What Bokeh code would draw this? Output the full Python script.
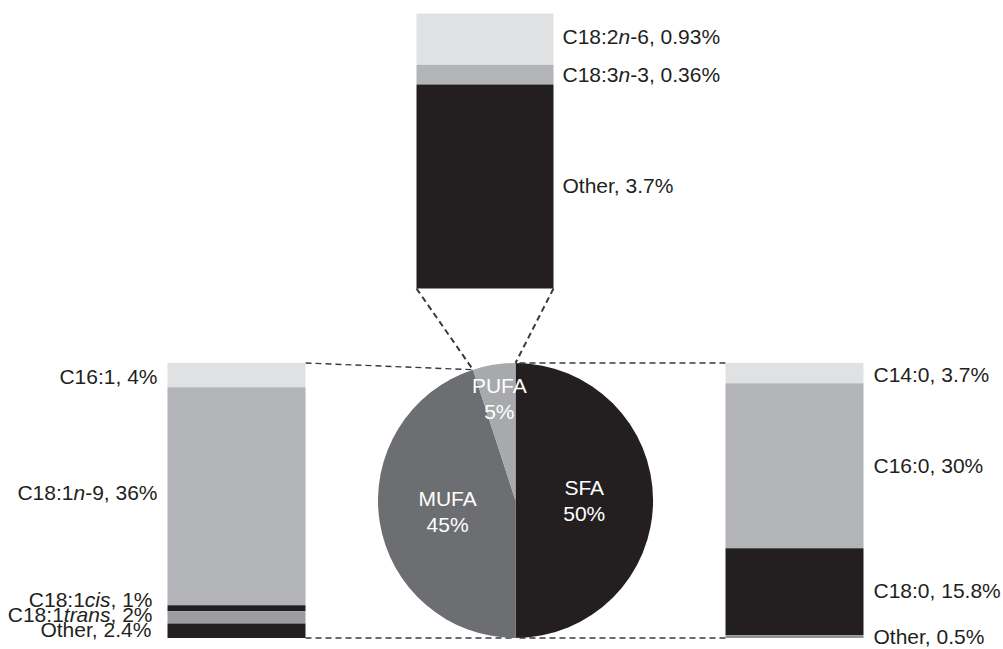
import re
import math
from bokeh.plotting import figure
from bokeh.models import Range1d, ColumnDataSource
from bokeh.core.properties import value
from bokeh.embed import file_html
from bokeh.resources import INLINE

# ---------------- data ----------------
pie_groups = ["SFA", "MUFA", "PUFA"]
pie_values = [50, 45, 5]

sfa_names = ["C14:0", "C16:0", "C18:0", "Other"]
sfa_values = [3.7, 30, 15.8, 0.5]

mufa_names = ["C16:1", "C18:1{n}-9", "C18:1{cis}", "C18:1{trans}", "Other"]
mufa_values = [4, 36, 1, 2, 2.4]

pufa_names = ["C18:2{n}-6", "C18:3{n}-3", "Other"]
pufa_values = [0.93, 0.36, 3.7]

# ---------------- style ----------------
FONT = "Liberation Sans"
FS = 21
BLACK = "#231f20"
LIGHT = "#e0e1e3"
MID = "#b3b4b7"
pie_colors = [BLACK, "#6d6e71", "#a7a9ac"]
sfa_colors = [LIGHT, MID, BLACK, "#929396"]
mufa_colors = [LIGHT, MID, BLACK, "#9c9da0", BLACK]
pufa_colors = [LIGHT, MID, BLACK]
label_radius = [0.5, 0.5, 0.75]

W, H = 1003, 649
p = figure(width=W, height=H, output_backend="svg", toolbar_location=None,
           x_range=Range1d(0, W), y_range=Range1d(0, H),
           min_border=0, background_fill_color="white", border_fill_color="white",
           outline_line_color=None)
p.axis.visible = False
p.grid.visible = False


def Y(sy):
    return H - sy


CX, CY, R = 515.0, 500.0, 137.5

# Arial / Liberation Sans advance widths (1/1000 em)
WID = {'C': 722, 'O': 778, ':': 278, ',': 278, ' ': 278, '.': 278, '-': 333, '%': 889,
       't': 278, 'h': 556, 'e': 556, 'r': 333, 'n': 556, 'c': 500, 'i': 222, 's': 500, 'a': 556}
for d in "0123456789":
    WID[d] = 556


def text_width(s):
    return sum(WID.get(ch, 556) for ch in s) * FS / 1000.0


def fmt(v):
    return f"{v:g}%"


norm = dict(x=[], y=[], text=[])
ital = dict(x=[], y=[], text=[])


def rich_label(markup, x, sy, align="left"):
    segs = []
    for part in re.split(r"(\{[^}]*\})", markup):
        if not part:
            continue
        if part.startswith("{"):
            segs.append((part[1:-1], True))
        else:
            segs.append((part, False))
    total = sum(text_width(t) for t, _ in segs)
    cur = x if align == "left" else x - total
    for t, it in segs:
        d = ital if it else norm
        d["x"].append(cur)
        d["y"].append(Y(sy))
        d["text"].append(t)
        cur += text_width(t)


def angle_point(deg, rr=R):
    a = math.radians(deg)
    return CX + rr * math.cos(a), CY - rr * math.sin(a)


# pie angles (clockwise from 12 o'clock)
total_pie = sum(pie_values)
starts, ends = [], []
cur = 90.0
for v in pie_values:
    nxt = cur - v / total_pie * 360.0
    starts.append(nxt)
    ends.append(cur)
    cur = nxt
edge_pt = angle_point(starts[1])   # MUFA / PUFA boundary on the rim
top_pt = angle_point(90)
bot_pt = angle_point(-90)

TOP_BAR = (416, 553, 13, 288)
LEFT_BAR = (167, 305, CY - R, CY + R)
RIGHT_BAR = (725, 863, CY - R, CY + R)

# ---------------- dashed connectors ----------------
dash_lines = [
    ((TOP_BAR[0], TOP_BAR[3]), edge_pt, 2.0),
    ((TOP_BAR[1], TOP_BAR[3]), top_pt, 2.0),
    ((LEFT_BAR[1], LEFT_BAR[2]), edge_pt, 1.4),
    ((LEFT_BAR[1], LEFT_BAR[3]), bot_pt, 1.4),
    ((RIGHT_BAR[0], RIGHT_BAR[2]), top_pt, 1.4),
    ((RIGHT_BAR[0], RIGHT_BAR[3]), bot_pt, 1.4),
]
for (a, b, w) in dash_lines:
    p.line([a[0], b[0]], [Y(a[1]), Y(b[1])], line_color="#3a3a3a", line_width=w,
           line_dash="6 4")

# ---------------- pie ----------------
pie_src = ColumnDataSource(dict(start=starts, end=ends, color=pie_colors))
p.wedge(x=CX, y=Y(CY), radius=R, start_angle="start", end_angle="end",
        start_angle_units="deg", end_angle_units="deg", fill_color="color",
        line_color=None, source=pie_src)

pie_txt = dict(x=[], y=[], text=[])
for g, v, s, e, lr in zip(pie_groups, pie_values, starts, ends, label_radius):
    px, py = angle_point((s + e) / 2.0, R * lr)
    pie_txt["x"] += [px, px]
    pie_txt["y"] += [Y(py - 12.8), Y(py + 12.8)]
    pie_txt["text"] += [g, fmt(v)]
p.text(x="x", y="y", text="text", source=ColumnDataSource(pie_txt),
       text_font=value(FONT), text_font_size=value(f"{FS}px"), text_color="white",
       text_align="center", text_baseline="middle")


# ---------------- stacked bars ----------------
def draw_bar(values, colors, geom):
    x0, x1, t, b = geom
    scale = (b - t) / sum(values)
    tops, bots, mids = [], [], []
    c = t
    for v in values:
        tops.append(Y(c))
        bots.append(Y(c + v * scale))
        mids.append(c + v * scale / 2.0)
        c += v * scale
    src = ColumnDataSource(dict(top=tops, bottom=bots, color=colors))
    p.quad(left=x0, right=x1, top="top", bottom="bottom", fill_color="color",
           line_color=None, source=src)
    return mids


pufa_mids = draw_bar(pufa_values, pufa_colors, TOP_BAR)
mufa_mids = draw_bar(mufa_values, mufa_colors, LEFT_BAR)
sfa_mids = draw_bar(sfa_values, sfa_colors, RIGHT_BAR)

# label nudges (screen px) to avoid overlaps
pufa_dy = [-3, 0, -1]
mufa_dy = [1, -4, -9, -2.5, -1]
mufa_dx = [0, 0, -5, -5, -5]
sfa_dy = [1, 0, -1, 0]

for n, v, m, dy in zip(pufa_names, pufa_values, pufa_mids, pufa_dy):
    rich_label(f"{n}, {fmt(v)}", 562, m + dy, "left")
for n, v, m, dy, dx in zip(mufa_names, mufa_values, mufa_mids, mufa_dy, mufa_dx):
    rich_label(f"{n}, {fmt(v)}", 157 + dx, m + dy, "right")
for n, v, m, dy in zip(sfa_names, sfa_values, sfa_mids, sfa_dy):
    rich_label(f"{n}, {fmt(v)}", 873, m + dy, "left")

p.text(x="x", y="y", text="text", source=ColumnDataSource(norm),
       text_font=value(FONT), text_font_size=value(f"{FS}px"), text_color="#231f20",
       text_align="left", text_baseline="middle")
p.text(x="x", y="y", text="text", source=ColumnDataSource(ital),
       text_font=value(FONT), text_font_size=value(f"{FS}px"), text_color="#231f20",
       text_font_style="italic", text_align="left", text_baseline="middle")

open("out.html", "w").write(file_html(p, INLINE))
